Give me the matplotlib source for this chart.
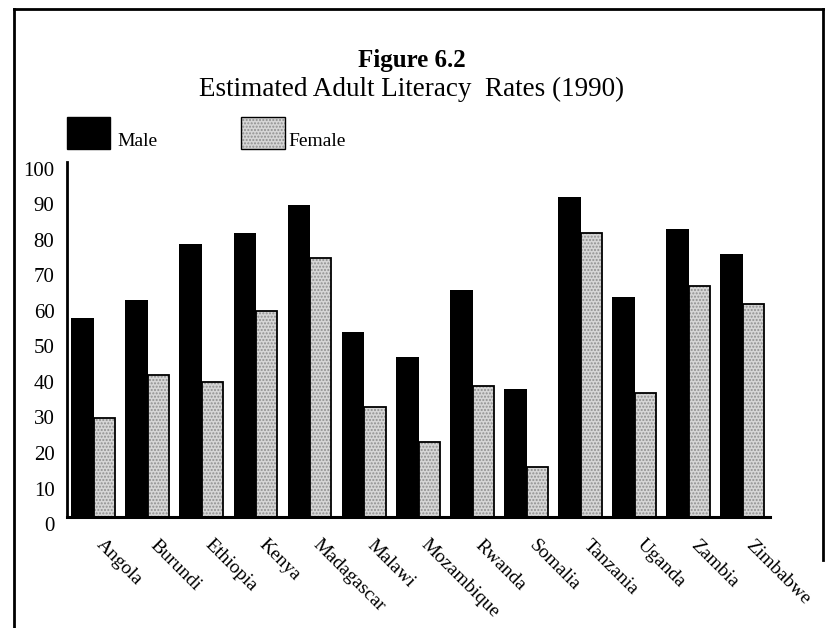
import numpy as np
import matplotlib
matplotlib.use("Agg")
import matplotlib.pyplot as plt
from matplotlib.lines import Line2D

# Estimated adult literacy rates, 1990 (%)
countries = ['Angola', 'Burundi', 'Ethiopia', 'Kenya', 'Madagascar', 'Malawi',
             'Mozambique', 'Rwanda', 'Somalia', 'Tanzania', 'Uganda', 'Zambia',
             'Zimbabwe']
male = [56, 61, 77, 80, 88, 52, 45, 64, 36, 90, 62, 81, 74]
female = [28, 40, 38, 58, 73, 31, 21, 37, 14, 80, 35, 65, 60]

plt.rcParams['font.family'] = ['Liberation Serif', 'DejaVu Serif']

fig = plt.figure(figsize=(8.26, 6.28), dpi=100)
ax = fig.add_axes([67 / 826, 1 - 517 / 628, 703 / 826, 355 / 628])

x = np.arange(len(countries))
w_m = 0.42
w_f = 0.39

ax.bar(x - w_m / 2, male, width=w_m, color='black', linewidth=0, label='Male')
# dotted grey screen for the female bars, then a black outline on top
ax.bar(x + w_f / 2, female, width=w_f, color='#d6d6d6', edgecolor='#8f8f8f',
       hatch='.....', linewidth=0)
ax.bar(x + w_f / 2, female, width=w_f, fill=False, edgecolor='black',
       linewidth=1.3)

ax.set_xlim(-0.5, len(countries) - 0.5)
ax.set_ylim(0, 100)
ax.set_yticks(range(0, 101, 10))
ax.tick_params(axis='y', length=0, pad=9, labelsize=15)
for lab in ax.get_yticklabels():
    lab.set_verticalalignment('top')
# country names hang off the right half of each pair
ax.set_xticks(x + 0.2)
ax.set_xticklabels(countries, rotation=-45, ha='left', va='top',
                   rotation_mode='anchor', fontsize=14)
ax.tick_params(axis='x', length=0, pad=14)

for side in ['top', 'right']:
    ax.spines[side].set_visible(False)
ax.spines['left'].set_linewidth(2)
ax.spines['bottom'].set_linewidth(2.2)

# titles
fig.text(0.499, 1 - 60 / 628, 'Figure 6.2', ha='center', va='center',
         fontsize=18, fontweight='bold')
fig.text(0.498, 1 - 89 / 628, 'Estimated Adult Literacy  Rates (1990)',
         ha='center', va='center', fontsize=19.5)

# legend swatches
fig.patches.append(plt.Rectangle((67 / 826, 1 - 149 / 628), 43 / 826, 32 / 628,
                                 transform=fig.transFigure, facecolor='black',
                                 edgecolor='black'))
fig.text(117 / 826, 1 - 141 / 628, 'Male', ha='left', va='center', fontsize=14)
fig.patches.append(plt.Rectangle((241 / 826, 1 - 149 / 628), 44 / 826, 32 / 628,
                                 transform=fig.transFigure, facecolor='#d6d6d6',
                                 edgecolor='#8f8f8f', hatch='.....', linewidth=0))
fig.patches.append(plt.Rectangle((241 / 826, 1 - 149 / 628), 44 / 826, 32 / 628,
                                 transform=fig.transFigure, fill=False,
                                 edgecolor='black', linewidth=1))
fig.text(288 / 826, 1 - 141 / 628, 'Female', ha='left', va='center', fontsize=14)

# frame around the figure
for xs, ys in [([14, 14], [9, 628]), ([14, 823], [9, 9]), ([823, 823], [9, 560])]:
    fig.add_artist(Line2D([v / 826 for v in xs], [1 - v / 628 for v in ys],
                          transform=fig.transFigure, color='black', linewidth=2))

fig.savefig('out.png', dpi=100)
